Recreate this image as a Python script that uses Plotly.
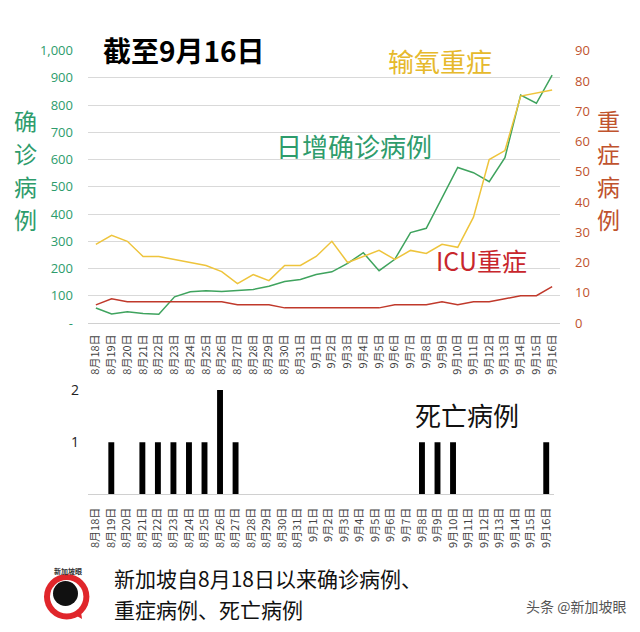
import plotly.graph_objects as go

# 8/18 - 9/16
dates = ["8月18日", "8月19日", "8月20日", "8月21日", "8月22日", "8月23日", "8月24日",
         "8月25日", "8月26日", "8月27日", "8月28日", "8月29日", "8月30日", "8月31日",
         "9月1日", "9月2日", "9月3日", "9月4日", "9月5日", "9月6日", "9月7日", "9月8日",
         "9月9日", "9月10日", "9月11日", "9月12日", "9月13日", "9月14日", "9月15日", "9月16日"]

daily_cases = [55, 33, 41, 35, 32, 96, 115, 118, 116, 119, 123, 135, 152, 160, 178,
               188, 219, 258, 192, 234, 332, 348, 458, 571, 552, 519, 607, 837, 807, 910]
oxygen = [26, 29, 27, 22, 22, 21, 20, 19, 17, 13, 16, 14, 19, 19, 22,
          27, 20, 22, 24, 21, 24, 23, 26, 25, 35, 54, 57, 75, 76, 77]
icu = [6, 8, 7, 7, 7, 7, 7, 7, 7, 6, 6, 6, 5, 5, 5,
       5, 5, 5, 5, 6, 6, 6, 7, 6, 7, 7, 8, 9, 9, 12]
deaths = [0, 1, 0, 1, 1, 1, 1, 1, 2, 1, 0, 0, 0, 0, 0,
          0, 0, 0, 0, 0, 0, 1, 1, 1, 0, 0, 0, 0, 0, 1]

left_ticks = [0, 100, 200, 300, 400, 500, 600, 700, 800, 900, 1000]
left_text = ["-", "100", "200", "300", "400", "500", "600", "700", "800", "900", "1,000"]

W, H = 640, 632
GREEN = "#3FA35E"
GREEN_TXT = "#2E9C6C"
YELLOW = "#EEC43C"
RED = "#C0392B"
RED_TXT = "#C0532E"
FONT = "Noto Sans CJK SC"


def px_x(x):
    return x / W


def px_y(y):
    return 1 - y / H


fig = go.Figure()
fig.add_trace(go.Scatter(x=dates, y=daily_cases, mode="lines", line=dict(color=GREEN, width=1.5),
                         xaxis="x", yaxis="y"))
fig.add_trace(go.Scatter(x=dates, y=oxygen, mode="lines", line=dict(color=YELLOW, width=1.5),
                         xaxis="x", yaxis="y2"))
fig.add_trace(go.Scatter(x=dates, y=icu, mode="lines", line=dict(color=RED, width=1.5),
                         xaxis="x", yaxis="y2"))
fig.add_trace(go.Bar(x=dates, y=deaths, marker=dict(color="black", line=dict(width=0)),
                     width=0.38, xaxis="x2", yaxis="y3"))

tickfont_x = dict(family=FONT, size=11, color="#444444")

fig.update_layout(
    width=W, height=H, autosize=False,
    margin=dict(l=0, r=0, t=0, b=0, pad=0, autoexpand=False),
    paper_bgcolor="white", plot_bgcolor="white",
    showlegend=False,
    font=dict(family=FONT),
    xaxis=dict(domain=[px_x(88), px_x(560)], anchor="y", type="category",
               range=[-0.5, 29.5], tickangle=-90, tickfont=tickfont_x, automargin=False,
               showgrid=False, showline=True, linecolor="#D0D0D0", linewidth=1,
               ticks="", ticklabelstandoff=6),
    yaxis=dict(domain=[px_y(323), px_y(50.7)], range=[0, 1000], tickvals=left_ticks,
               ticktext=left_text, tickfont=dict(family="Open Sans", size=13, color=GREEN_TXT),
               showgrid=True, gridcolor="#D9D9D9", gridwidth=1, zeroline=False,
               ticks="", ticklabelstandoff=14, automargin=False),
    yaxis2=dict(overlaying="y", side="right", anchor="x", range=[0, 90], dtick=10,
                tickfont=dict(family="Open Sans", size=13, color=RED_TXT),
                showgrid=False, zeroline=False, ticks="", ticklabelstandoff=14,
                automargin=False),
    xaxis2=dict(domain=[px_x(88), px_x(554)], anchor="y3", type="category",
                range=[-0.5, 29.5], tickangle=-90, tickfont=tickfont_x, automargin=False,
                showgrid=False, showline=True, linecolor="#D0D0D0", linewidth=1,
                ticks="", ticklabelstandoff=8),
    yaxis3=dict(domain=[px_y(494.3), px_y(390)], range=[0, 2], tickvals=[1, 2],
                tickfont=dict(family="Open Sans", size=14, color="#222222"),
                showgrid=False, zeroline=False, ticks="", ticklabelstandoff=8,
                automargin=False),
    bargap=0.6,
)


def label(text, x, y, size, color, bold=False, xanchor="center"):
    if bold:
        text = "<b>" + text + "</b>"
    fig.add_annotation(text=text, x=px_x(x), y=px_y(y), xref="paper", yref="paper",
                       xanchor=xanchor, yanchor="middle", showarrow=False,
                       font=dict(family=FONT, size=size, color=color))


label("截至9月16日", 184, 50, 28, "black", bold=True)
label("输氧重症", 440, 60, 26, "#E6B92C")
label("日增确诊病例", 354, 145, 26, GREEN_TXT)
label("ICU重症", 481, 260, 25, "#C8262C")
label("死亡病例", 467, 414, 26, "#111111")

# vertical axis titles, one character per annotation
for i, ch in enumerate("确诊病例"):
    label(ch, 25, 120 + 33 * i, 23, GREEN_TXT)
for i, ch in enumerate("重症病例"):
    label(ch, 608, 120 + 33 * i, 23, RED_TXT)

# caption, one line per annotation
label("新加坡自8月18日以来确诊病例、", 112, 578, 21, "#111111", xanchor="left")
label("重症病例、死亡病例", 112, 609, 21, "#111111", xanchor="left")
label("头条 @新加坡眼", 628, 606, 14, "#555555", xanchor="right")

# logo
fig.add_shape(type="path", xref="paper", yref="paper",
              path="M %f %f L %f %f L %f %f Z" % (px_x(70), px_y(612), px_x(82), px_y(619),
                                                   px_x(80), px_y(604)),
              fillcolor="#E0262B", line=dict(width=0))
fig.add_shape(type="circle", xref="paper", yref="paper",
              x0=px_x(44), x1=px_x(89.4), y0=px_y(619.4), y1=px_y(574),
              fillcolor="#E0262B", line=dict(width=0))
fig.add_shape(type="circle", xref="paper", yref="paper",
              x0=px_x(50), x1=px_x(83.4), y0=px_y(613.4), y1=px_y(580),
              fillcolor="white", line=dict(width=0))
fig.add_shape(type="circle", xref="paper", yref="paper",
              x0=px_x(53), x1=px_x(78), y0=px_y(606), y1=px_y(581),
              fillcolor="#111111", line=dict(width=0))
label("新加坡眼", 68, 571, 7, "#333333", bold=True)

fig.write_html("out.html", config={"displayModeBar": False},
               post_script="document.body.style.margin='0';")
